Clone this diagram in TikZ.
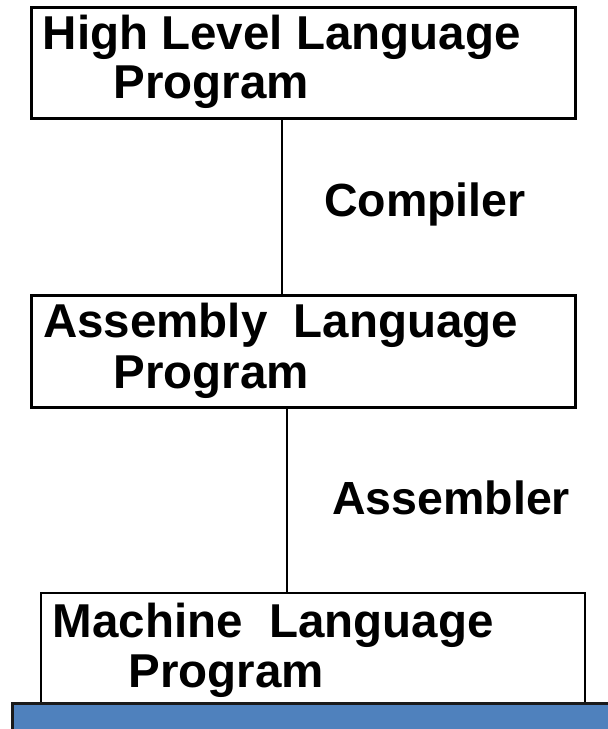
\documentclass[tikz,border=0pt]{standalone}
\usepackage{fontspec}
\setmainfont{Liberation Sans}
\definecolor{barblue}{HTML}{4F81BD}
\definecolor{bardark}{HTML}{1A1A1A}
\begin{document}
\begin{tikzpicture}[x=1bp,y=-1bp,
  boxthick/.style={draw=black,line width=2.8bp,inner sep=0pt},
  boxthin/.style={draw=black,line width=2.2bp,inner sep=0pt},
  txt/.style={inner sep=0pt,anchor=base west,font=\fontsize{47.5bp}{50bp}\selectfont\bfseries},
  lbl/.style={inner sep=0pt,anchor=base west,font=\fontsize{46.5bp}{50bp}\selectfont\bfseries},
  conn/.style={draw=black,line width=2bp}]
\useasboundingbox (0,0) rectangle (608,729);
% boxes
\node[boxthick,minimum width=544bp,minimum height=111bp,anchor=north west] (hl) at (30,6) {};
\node[boxthick,minimum width=544bp,minimum height=112bp,anchor=north west] (al) at (30,294) {};
\node[boxthin,minimum width=544bp,minimum height=112bp,anchor=north west] (ml) at (40,592) {};
% texts
\node[txt] (hl1) at (42.6,50) {High Level Language};
\node[txt] (hl2) at (113.4,99) {Program};
\node[txt] (al1) at (43,337) {Assembly\ \ Language};
\node[txt] (al2) at (113.4,388) {Program};
\node[txt] (ml1) at (52.6,637) {Machine\ \ Language};
\node[txt] (ml2) at (128.4,687) {Program};
% connectors
\coordinate (c1) at (282,0);
\coordinate (c2) at (287,0);
\draw[conn] (hl.south -| c1) -- (al.north -| c1);
\draw[conn] (al.south -| c2) -- (ml.north -| c2);
\node[lbl] (comp) at (324,216) {Compiler};
\node[lbl] (asm) at (332,514) {Assembler};
% blue bar
\node[draw=bardark,fill=barblue,line width=3bp,inner sep=0pt,minimum width=610bp,minimum height=40bp,anchor=north west] (bar) at (11,702) {};
\end{tikzpicture}
\end{document}
